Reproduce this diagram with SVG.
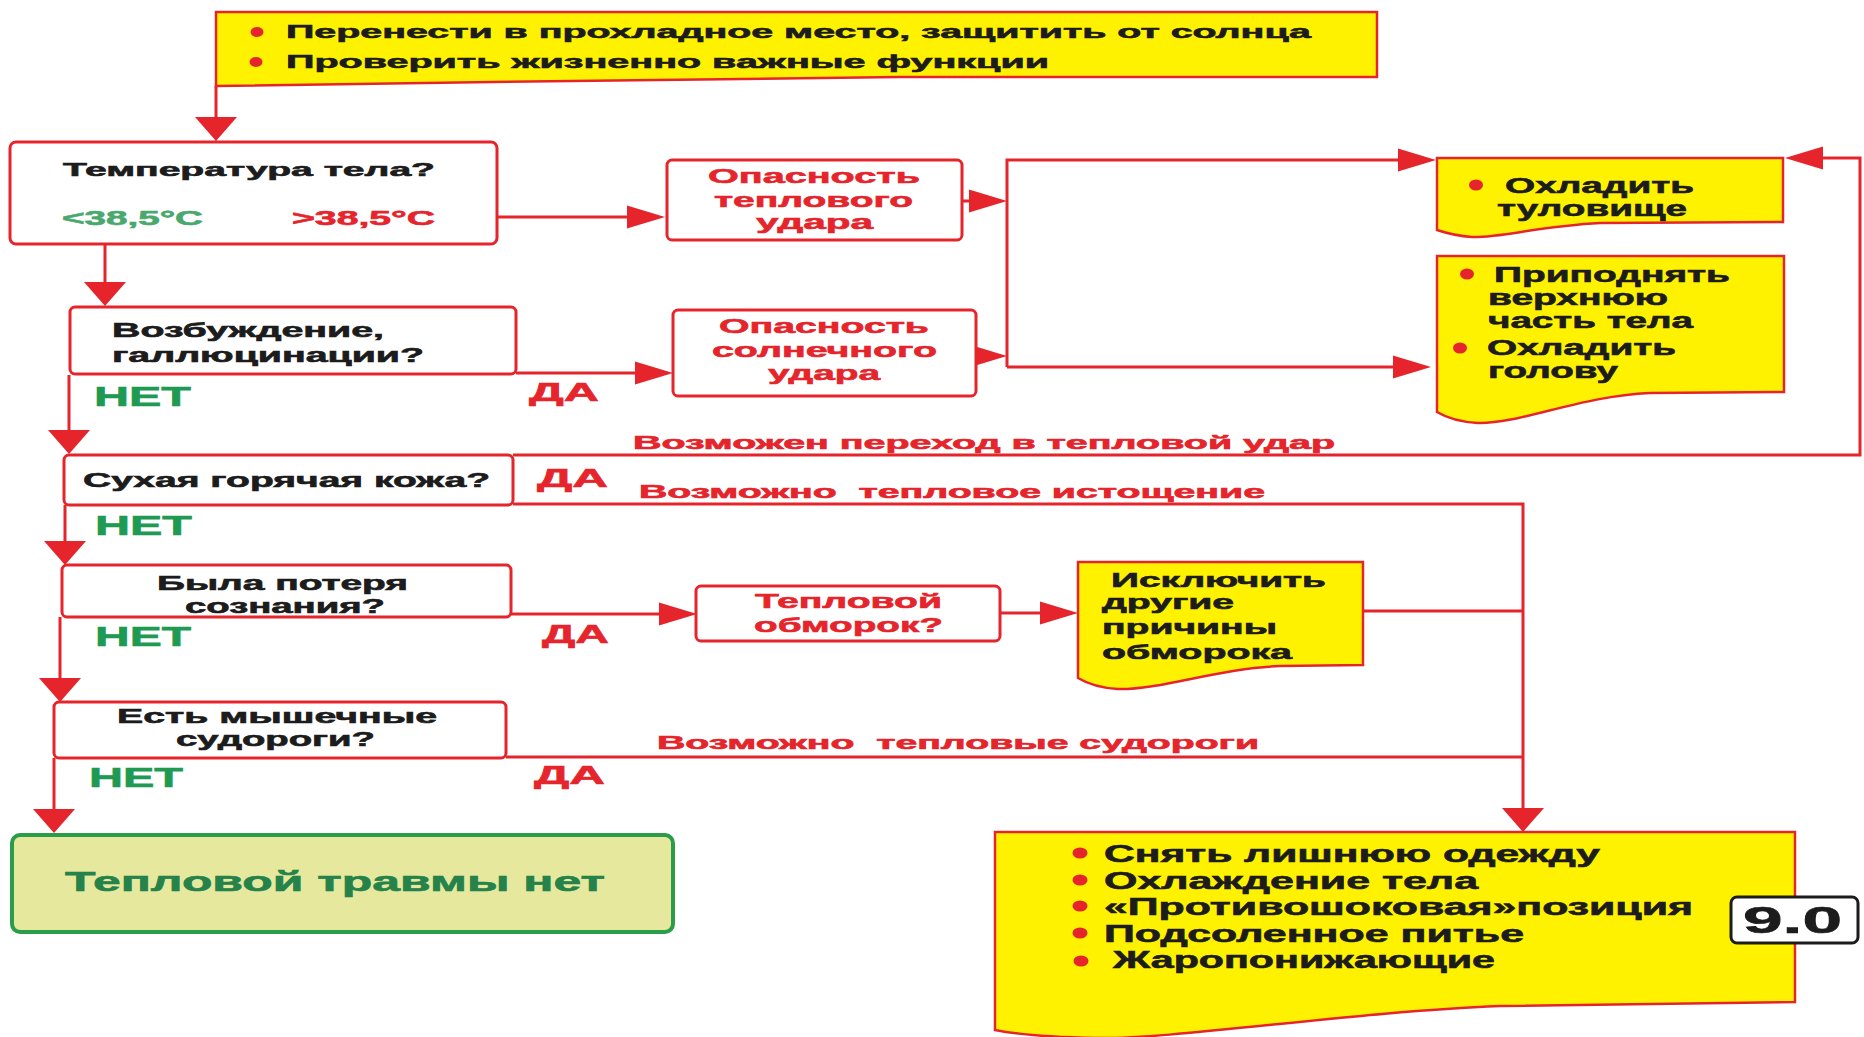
<svg xmlns="http://www.w3.org/2000/svg" width="1864" height="1037" viewBox="0 0 1864 1037">
<style>
text { font-family: "Liberation Sans", Arial, sans-serif; font-weight: bold; stroke-width: 0.6; }
.k { fill: #1c1c1c; stroke: #1c1c1c; }
.r { fill: #e5252b; stroke: #e5252b; }
.g { fill: #1f9a52; stroke: #1f9a52; }
.gl { fill: #4aa86e; stroke: #4aa86e; }
.gb { fill: #24824a; stroke: #24824a; }
.box { fill: #ffffff; stroke: #e5252b; stroke-width: 3; }
.doc { fill: #fff200; stroke: #e5252b; stroke-width: 2.5; }
.ln { fill: none; stroke: #e5252b; stroke-width: 3; }
.bul { fill: #e5252b; }
.pre { white-space: pre; }
</style>
<defs>
<marker id="aH" markerUnits="userSpaceOnUse" orient="auto" markerWidth="38" markerHeight="23" refX="32" refY="11.5" overflow="visible">
<path d="M0,0 L38,11.5 L0,23 Z" fill="#e5252b"/>
</marker>
<marker id="aV" markerUnits="userSpaceOnUse" orient="auto" markerWidth="24" markerHeight="42" refX="18" refY="21" overflow="visible">
<path d="M0,0 L24,21 L0,42 Z" fill="#e5252b"/>
</marker>
</defs>
<rect width="1864" height="1037" fill="#ffffff"/>

<g id="connectors">
<path class="ln" d="M216,86 V135" marker-end="url(#aV)"/>
<path class="ln" d="M497,217 H659" marker-end="url(#aH)"/>
<path class="ln" d="M962,201 H1001" marker-end="url(#aH)"/>
<path class="ln" d="M976,356 H1001" marker-end="url(#aH)"/>
<path class="ln" d="M1007,367 V160 H1430" marker-end="url(#aH)"/>
<path class="ln" d="M1007,367 H1425" marker-end="url(#aH)"/>
<path class="ln" d="M105,244 V300" marker-end="url(#aV)"/>
<path class="ln" d="M516,373 H667" marker-end="url(#aH)"/>
<path class="ln" d="M69,375 V448" marker-end="url(#aV)"/>
<path class="ln" d="M65,505 V559" marker-end="url(#aV)"/>
<path class="ln" d="M60,617 V696" marker-end="url(#aV)"/>
<path class="ln" d="M54,758 V827" marker-end="url(#aV)"/>
<path class="ln" d="M511,614 H691" marker-end="url(#aH)"/>
<path class="ln" d="M1000,613 H1072" marker-end="url(#aH)"/>
<path class="ln" d="M1363,611 H1523"/>
<path class="ln" d="M506,757 H1523"/>
<path class="ln" d="M513,504 H1523 V826" marker-end="url(#aV)"/>
<path class="ln" d="M513,455 H1860 V158 H1791" marker-end="url(#aH)"/>
<text class="r" x="633" y="449" font-size="18" textLength="702" lengthAdjust="spacingAndGlyphs">Возможен переход в тепловой удар</text>
<text class="r pre" x="639" y="498" font-size="18" textLength="626" lengthAdjust="spacingAndGlyphs">Возможно  тепловое истощение</text>
<text class="r pre" x="657" y="749" font-size="18" textLength="602" lengthAdjust="spacingAndGlyphs">Возможно  тепловые судороги</text>
<text class="g" x="94" y="406" font-size="27" textLength="97" lengthAdjust="spacingAndGlyphs">НЕТ</text>
<text class="r" x="529" y="401" font-size="26" textLength="70" lengthAdjust="spacingAndGlyphs">ДА</text>
<text class="r" x="537" y="487" font-size="26" textLength="71" lengthAdjust="spacingAndGlyphs">ДА</text>
<text class="g" x="95" y="535" font-size="27" textLength="97" lengthAdjust="spacingAndGlyphs">НЕТ</text>
<text class="g" x="95" y="646" font-size="27" textLength="96" lengthAdjust="spacingAndGlyphs">НЕТ</text>
<text class="r" x="542" y="643" font-size="26" textLength="67" lengthAdjust="spacingAndGlyphs">ДА</text>
<text class="g" x="89" y="787" font-size="27" textLength="94" lengthAdjust="spacingAndGlyphs">НЕТ</text>
<text class="r" x="534" y="784" font-size="26" textLength="71" lengthAdjust="spacingAndGlyphs">ДА</text>
</g>

<g id="node-top">
<path class="doc" d="M216,12 H1377 V77 H900 C700,78 420,84 216,86 Z"/>
<ellipse class="bul" cx="257" cy="32" rx="6.5" ry="5"/>
<text class="k" x="286" y="38" font-size="19" textLength="1025" lengthAdjust="spacingAndGlyphs">Перенести в прохладное место, защитить от солнца</text>
<ellipse class="bul" cx="256" cy="62" rx="6.5" ry="5"/>
<text class="k" x="286" y="68" font-size="19" textLength="763" lengthAdjust="spacingAndGlyphs">Проверить жизненно важные функции</text>
</g>

<g id="node-temp">
<rect class="box" x="10" y="142" width="487" height="102" rx="6"/>
<text class="k" x="63" y="176" font-size="19" textLength="372" lengthAdjust="spacingAndGlyphs">Температура тела?</text>
<text class="gl" x="62" y="225" font-size="20" textLength="141" lengthAdjust="spacingAndGlyphs">&lt;38,5°C</text>
<text class="r" x="292" y="225" font-size="20" textLength="143" lengthAdjust="spacingAndGlyphs">&gt;38,5°C</text>
</g>

<g id="node-heatstroke">
<rect class="box" x="667" y="160" width="295" height="80" rx="5"/>
<text class="r" x="708" y="183" font-size="21" textLength="212" lengthAdjust="spacingAndGlyphs">Опасность</text>
<text class="r" x="714" y="207" font-size="21" textLength="199" lengthAdjust="spacingAndGlyphs">теплового</text>
<text class="r" x="756" y="229" font-size="21" textLength="117" lengthAdjust="spacingAndGlyphs">удара</text>
</g>

<g id="node-sunstroke">
<rect class="box" x="673" y="310" width="303" height="86" rx="5"/>
<text class="r" x="719" y="333" font-size="21" textLength="210" lengthAdjust="spacingAndGlyphs">Опасность</text>
<text class="r" x="712" y="357" font-size="21" textLength="225" lengthAdjust="spacingAndGlyphs">солнечного</text>
<text class="r" x="768" y="380" font-size="21" textLength="112" lengthAdjust="spacingAndGlyphs">удара</text>
</g>

<g id="node-agitation">
<rect class="box" x="70" y="307" width="446" height="67" rx="5"/>
<text class="k" x="112" y="337" font-size="20" textLength="272" lengthAdjust="spacingAndGlyphs">Возбуждение,</text>
<text class="k" x="112" y="362" font-size="20" textLength="312" lengthAdjust="spacingAndGlyphs">галлюцинации?</text>
</g>

<g id="node-dryskin">
<rect class="box" x="64" y="455" width="449" height="50" rx="5"/>
<text class="k" x="83" y="487" font-size="20" textLength="407" lengthAdjust="spacingAndGlyphs">Сухая горячая кожа?</text>
</g>

<g id="node-faint-q">
<rect class="box" x="62" y="565" width="449" height="52" rx="5"/>
<text class="k" x="157" y="590" font-size="20" textLength="251" lengthAdjust="spacingAndGlyphs">Была потеря</text>
<text class="k" x="185" y="613" font-size="20" textLength="200" lengthAdjust="spacingAndGlyphs">сознания?</text>
</g>

<g id="node-cramps-q">
<rect class="box" x="54" y="702" width="452" height="56" rx="5"/>
<text class="k" x="117" y="723" font-size="20" textLength="320" lengthAdjust="spacingAndGlyphs">Есть мышечные</text>
<text class="k" x="176" y="746" font-size="20" textLength="199" lengthAdjust="spacingAndGlyphs">судороги?</text>
</g>

<g id="node-syncope">
<rect class="box" x="696" y="586" width="304" height="55" rx="5"/>
<text class="r" x="755" y="608" font-size="21" textLength="187" lengthAdjust="spacingAndGlyphs">Тепловой</text>
<text class="r" x="754" y="632" font-size="21" textLength="189" lengthAdjust="spacingAndGlyphs">обморок?</text>
</g>

<g id="node-exclude">
<path class="doc" d="M1078,562 H1363 V665 L1280,666 C1220,668 1160,690 1118,689 C1100,688 1088,684 1078,678 Z"/>
<text class="k" x="1111" y="587" font-size="20" textLength="215" lengthAdjust="spacingAndGlyphs">Исключить</text>
<text class="k" x="1102" y="609" font-size="20" textLength="132" lengthAdjust="spacingAndGlyphs">другие</text>
<text class="k" x="1102" y="634" font-size="20" textLength="175" lengthAdjust="spacingAndGlyphs">причины</text>
<text class="k" x="1102" y="659" font-size="20" textLength="190" lengthAdjust="spacingAndGlyphs">обморока</text>
</g>

<g id="node-cool-trunk">
<path class="doc" d="M1437,158 H1783 V222 L1600,223 C1540,226 1500,238 1472,237 C1457,236 1446,233 1437,230 Z"/>
<ellipse class="bul" cx="1476" cy="185" rx="7" ry="5.5"/>
<text class="k" x="1505" y="193" font-size="22" textLength="189" lengthAdjust="spacingAndGlyphs">Охладить</text>
<text class="k" x="1497" y="216" font-size="22" textLength="190" lengthAdjust="spacingAndGlyphs">туловище</text>
</g>

<g id="node-raise-head">
<path class="doc" d="M1437,256 H1784 V392 L1650,393 C1580,396 1520,424 1478,423 C1460,422 1447,418 1437,412 Z"/>
<ellipse class="bul" cx="1467" cy="274" rx="7" ry="5.5"/>
<text class="k" x="1494" y="282" font-size="22" textLength="236" lengthAdjust="spacingAndGlyphs">Приподнять</text>
<text class="k" x="1488" y="305" font-size="22" textLength="180" lengthAdjust="spacingAndGlyphs">верхнюю</text>
<text class="k" x="1488" y="328" font-size="22" textLength="205" lengthAdjust="spacingAndGlyphs">часть тела</text>
<ellipse class="bul" cx="1460" cy="348" rx="7" ry="5.5"/>
<text class="k" x="1487" y="355" font-size="22" textLength="189" lengthAdjust="spacingAndGlyphs">Охладить</text>
<text class="k" x="1488" y="378" font-size="22" textLength="130" lengthAdjust="spacingAndGlyphs">голову</text>
</g>

<g id="node-no-injury">
<rect x="12" y="835" width="661" height="97" rx="8" fill="#e5e89d" stroke="#2a9d4b" stroke-width="4"/>
<text class="gb" x="65" y="891" font-size="28" textLength="540" lengthAdjust="spacingAndGlyphs">Тепловой травмы нет</text>
</g>

<g id="node-actions">
<path class="doc" d="M995,832 H1795 V1002 L1500,1006 C1350,1012 1170,1040 1095,1038 C1040,1037 1015,1034 995,1030 Z"/>
<ellipse class="bul" cx="1080" cy="853" rx="7.5" ry="5.5"/>
<text class="k" x="1104" y="862" font-size="23" textLength="496" lengthAdjust="spacingAndGlyphs">Снять лишнюю одежду</text>
<ellipse class="bul" cx="1080" cy="880" rx="7.5" ry="5.5"/>
<text class="k" x="1104" y="889" font-size="23" textLength="374" lengthAdjust="spacingAndGlyphs">Охлаждение тела</text>
<ellipse class="bul" cx="1080" cy="906" rx="7.5" ry="5.5"/>
<text class="k" x="1104" y="915" font-size="23" textLength="589" lengthAdjust="spacingAndGlyphs">«Противошоковая»позиция</text>
<ellipse class="bul" cx="1080" cy="933" rx="7.5" ry="5.5"/>
<text class="k" x="1104" y="942" font-size="23" textLength="420" lengthAdjust="spacingAndGlyphs">Подсоленное питье</text>
<ellipse class="bul" cx="1081" cy="961" rx="7.5" ry="5.5"/>
<text class="k" x="1113" y="968" font-size="23" textLength="382" lengthAdjust="spacingAndGlyphs">Жаропонижающие</text>
</g>

<g id="node-code">
<rect x="1731" y="897" width="127" height="46" rx="6" fill="#ffffff" stroke="#1c1c1c" stroke-width="3"/>
<text class="k" x="1743" y="933" font-size="36" textLength="99" lengthAdjust="spacingAndGlyphs">9.0</text>
</g>
</svg>
